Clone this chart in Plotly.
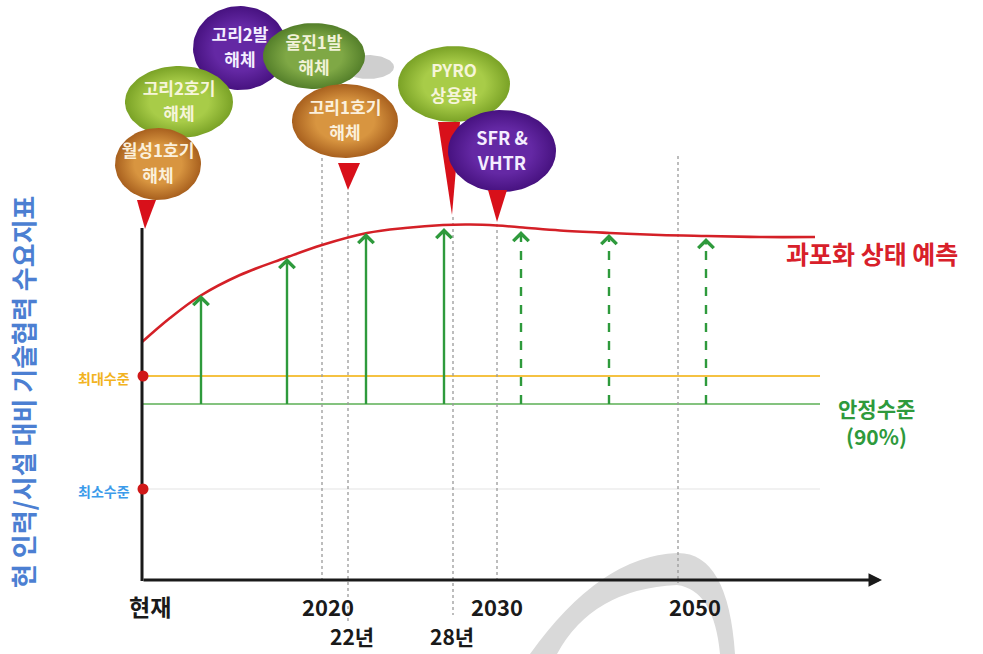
import numpy as np
import plotly.graph_objects as go

# ---------------- data (diagram units = pixels) ----------------
curve_x = [142, 170, 200, 240, 285, 322, 367, 405, 443, 470, 497, 523, 560, 610, 660, 707, 760, 815]
curve_y = [342, 318, 296, 275, 258, 245, 233, 228, 225, 224.5, 225.5, 227.5, 230.5, 233, 235, 236, 237, 237]

solid_arrow_x = [201, 287, 366, 444]
solid_arrow_top = [295, 258, 233, 228]
dashed_arrow_x = [521, 609, 706]
dashed_arrow_top = [231, 234, 238]

level_names = ["최대수준", "안정수준", "최소수준"]
level_y = [376, 404, 489]

tick_labels = ["현재", "2020", "2030", "2050"]
tick_x = [150, 328, 497, 695]
sub_tick_labels = ["22년", "28년"]
sub_tick_x = [352, 452]

event_lines_x = [322, 348, 453, 497, 678]
event_lines_top = [158, 192, 217, 224, 156]

bubble_line1 = ["고리2발", "울진1발", "고리2호기", "월성1호기", "고리1호기", "PYRO", "SFR &"]
bubble_line2 = ["해체", "해체", "해체", "해체", "해체", "상용화", "VHTR"]

# ---------------- figure ----------------
W, H = 983, 654
fig = go.Figure()
FONT = "Noto Sans CJK KR"


def ellipse(cx, cy, rx, ry, n=90):
    t = np.linspace(0, 2 * np.pi, n)
    return cx + rx * np.cos(t), cy + ry * np.sin(t)


def line(xs, ys, color, width, dash="solid"):
    fig.add_trace(go.Scatter(x=xs, y=ys, mode="lines", line=dict(color=color, width=width, dash=dash),
                             hoverinfo="skip", showlegend=False))


# faint bg helper lines
line([143, 820], [level_y[2], level_y[2]], "#E4E4E4", 1.2)
line([143, 820], [level_y[0], level_y[0]], "#F5C242", 2.2)
line([143, 820], [level_y[1], level_y[1]], "#5BAF55", 1.4)

# dotted event lines
for x, top in zip(event_lines_x, event_lines_top):
    bottom = 583
    if x == 348:
        bottom = 622
    elif x == 453:
        bottom = 615
    line([x, x], [top, bottom], "#9A9A9A", 1.3, "dot")

# swoosh watermark
fig.add_shape(type="path",
              path="M 530,654 Q 600,556 677,553 Q 728,552 735,654 L 720,654 Q 714,590 677,585 Q 592,589 557,654 Z",
              xref="x", yref="y", fillcolor="#D9D9D9", line=dict(width=0), layer="below")

# green arrows
for x, top in zip(solid_arrow_x, solid_arrow_top):
    line([x, x], [level_y[1], top + 3], "#2E9A3C", 2.4)
for x, top in zip(dashed_arrow_x, dashed_arrow_top):
    line([x, x], [level_y[1], top + 3], "#2E9A3C", 2.4, "dash")

# red curve
fig.add_trace(go.Scatter(x=curve_x, y=curve_y, mode="lines", line=dict(color="#D42027", width=2.6, shape="spline"),
                         hoverinfo="skip", showlegend=False))

# axes
line([142, 142], [228, 581], "#1A1A1A", 3)
fig.add_annotation(x=882, y=580, ax=142, ay=580, axref="x", ayref="y", xref="x", yref="y",
                   text="", showarrow=True, arrowhead=2, arrowsize=0.9, arrowwidth=3, arrowcolor="#1A1A1A")

# arrow heads
for x, top in list(zip(solid_arrow_x, solid_arrow_top)) + list(zip(dashed_arrow_x, dashed_arrow_top)):
    fig.add_annotation(x=x, y=top, ax=x, ay=top + 8, axref="x", ayref="y", xref="x", yref="y",
                       text="", showarrow=True, arrowhead=4, arrowsize=1.3, arrowwidth=2.3, arrowcolor="#2E9A3C")

# red dots on axis
fig.add_trace(go.Scatter(x=[143, 143], y=[level_y[0], level_y[2]], mode="markers",
                         marker=dict(color="#D01818", size=11), hoverinfo="skip", showlegend=False))


# bubbles & triangles
def bubble(i, cx, cy, rx, ry, c0, c1, tcolor, size=17):
    xs, ys = ellipse(cx, cy, rx, ry)
    fig.add_trace(go.Scatter(x=xs, y=ys, mode="lines", fill="toself", line=dict(width=0, color=c1),
                             fillgradient=dict(type="radial", colorscale=[[0, c0], [0.55, c0], [1, c1]]),
                             hoverinfo="skip", showlegend=False))
    fig.add_trace(go.Scatter(x=[cx, cx], y=[cy - 11, cy + 14], mode="text",
                             text=[f"<b>{bubble_line1[i]}</b>", f"<b>{bubble_line2[i]}</b>"],
                             textfont=dict(family=FONT, size=size, color=tcolor),
                             hoverinfo="skip", showlegend=False))


def triangle(x0, x1, ytop, xtip, ytip):
    fig.add_trace(go.Scatter(x=[x0, x1, xtip, x0], y=[ytop, ytop, ytip, ytop], mode="lines", fill="toself",
                             fillcolor="#D8101A", line=dict(width=0, color="#D8101A"),
                             hoverinfo="skip", showlegend=False))


ORANGE = ("#D89540", "#A8601E")
LIME = ("#A8CC48", "#7AA226")
OLIVE = ("#7FA845", "#547F2A")
PURPLE = ("#6428A4", "#471280")

bubble(0, 240, 48, 47, 42, *PURPLE, "#F4EEFF")
sx, sy = ellipse(368, 67, 26, 12)
fig.add_trace(go.Scatter(x=sx, y=sy, mode="lines", fill="toself", fillcolor="#CFCFCF",
                         line=dict(width=0), hoverinfo="skip", showlegend=False))
bubble(1, 314, 56, 51, 33, *OLIVE, "#F1F2D8")
bubble(2, 179, 102, 54, 36, *LIME, "#F6F5DA")
bubble(3, 158, 164, 43, 36, *ORANGE, "#FBF0DC")
triangle(137, 156, 200, 145, 229)
bubble(4, 345, 121, 53, 37, *ORANGE, "#FBF0DC")
triangle(338, 360, 163, 348, 190)
bubble(5, 454, 84, 56, 38, *LIME, "#F6F5DA")
triangle(438, 460, 122, 452, 215)
bubble(6, 502, 151, 54, 41, *PURPLE, "#F4EEFF", 18)
triangle(488, 507, 190, 497, 222)


# texts
def text(x, y, s, size, color, xanchor="center", bold=True, angle=0):
    fig.add_annotation(x=x, y=y, xref="x", yref="y", text=f"<b>{s}</b>" if bold else s, showarrow=False,
                       font=dict(family=FONT, size=size, color=color), xanchor=xanchor, yanchor="middle",
                       textangle=angle)


for s, x in zip(tick_labels, tick_x):
    text(x, 606, s, 23 if s == "현재" else 22, "#1A1A1A")
for s, x in zip(sub_tick_labels, sub_tick_x):
    text(x, 636, s, 21, "#1A1A1A")

text(872, 253, "과포화 상태 예측", 25, "#D8202A")
text(876, 408, level_names[1], 21, "#2E9A3C")
text(876, 436, "(90%)", 21, "#2E9A3C")
text(132, 378, level_names[0], 14, "#F2B320", xanchor="right")
text(132, 491, level_names[2], 14, "#3C9BEA", xanchor="right")
text(22, 392, "현 인력/시설 대비 기술협력 수요지표", 26, "#4C7FD2", angle=-90)

fig.update_layout(
    width=W, height=H, margin=dict(l=0, r=0, t=0, b=0),
    paper_bgcolor="white", plot_bgcolor="white",
    xaxis=dict(range=[0, W], visible=False, fixedrange=True),
    yaxis=dict(range=[H, 0], visible=False, fixedrange=True),
    showlegend=False,
)

fig.write_html("out.html", config={"displayModeBar": False},
               post_script="document.body.style.margin='0px';document.body.style.overflow='hidden';")
